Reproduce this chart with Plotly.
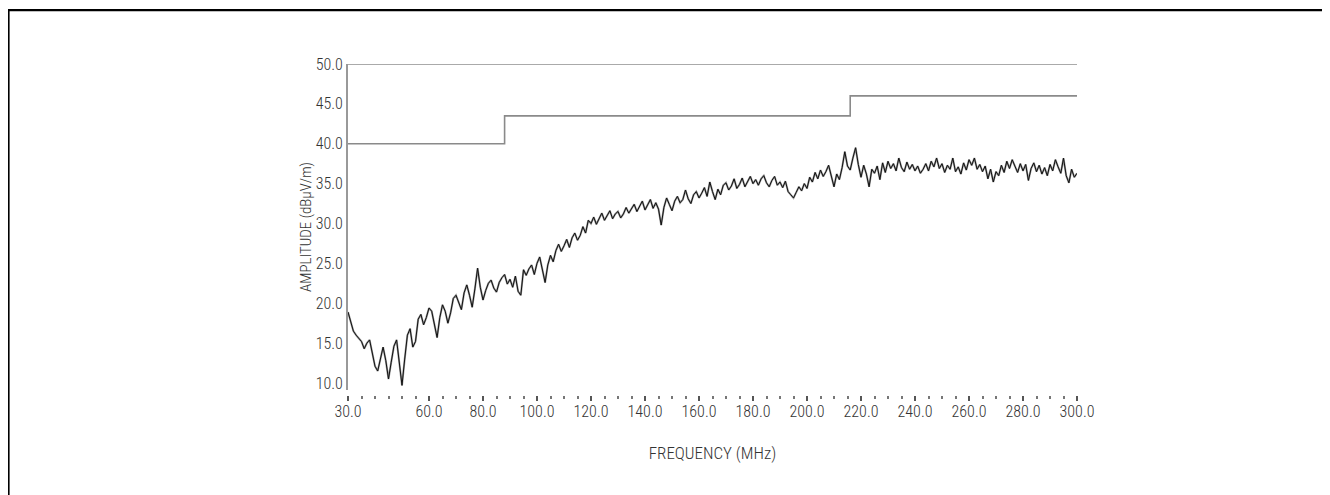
import plotly.graph_objects as go

# Measured emissions, 1 MHz steps from 30 to 300 MHz (dBuV/m)
freq_start = 30
amplitude = [
    18.9, 17.8, 16.5, 16.0, 15.6, 15.2, 14.3, 15.0, 15.4, 13.6,
    12.1, 11.5, 13.2, 14.5, 12.8, 10.5, 12.6, 14.6, 15.4, 12.5,
    9.7, 13.0, 16.0, 16.8, 14.5, 15.2, 18.0, 18.6, 17.3, 18.2,
    19.4, 19.0, 17.4, 15.7, 18.2, 19.8, 19.0, 17.5, 18.8, 20.6,
    21.0, 20.0, 19.2, 21.3, 22.3, 21.0, 19.5, 21.8, 24.4, 22.0,
    20.4, 21.6, 22.5, 22.9, 21.9, 21.4, 22.6, 23.2, 23.6, 22.4,
    23.0, 22.0, 23.4, 21.5, 21.0, 24.2, 23.5, 24.3, 24.8, 23.6,
    25.0, 25.8, 24.4, 22.6, 24.8, 26.0, 25.2, 26.6, 27.4, 26.5,
    27.2, 28.0, 27.0, 28.2, 28.8, 27.9, 28.5, 29.6, 28.8, 30.4,
    30.0, 30.8, 29.9, 30.6, 31.3, 30.4, 31.0, 31.6, 30.6, 31.2,
    31.5, 30.7, 31.2, 32.0, 31.3, 31.8, 32.4, 31.5, 32.2, 32.8,
    31.7, 32.3, 33.0, 31.9, 32.6, 31.8, 29.8, 32.0, 33.2, 32.4,
    31.6, 32.8, 33.4, 32.6, 33.0, 34.2, 33.1, 32.5, 33.6, 34.0,
    33.2, 33.8, 34.5, 33.4, 35.2, 34.0, 33.0, 34.3, 33.6, 34.8,
    35.1, 34.2, 34.7, 35.6, 34.4, 34.9, 35.7, 34.6, 35.3, 35.9,
    35.0, 35.5, 34.8, 35.6, 36.0, 35.1, 34.6, 35.4, 35.9, 34.8,
    35.2, 34.5, 35.3, 34.0, 33.6, 33.2, 33.9, 34.6, 34.1, 35.0,
    34.4, 35.8, 35.2, 36.4, 35.6, 36.7, 35.9, 36.5, 37.3, 36.0,
    34.6, 36.2, 35.5, 37.0, 39.0, 37.2, 36.7, 38.2, 39.5, 37.4,
    35.8, 37.3, 36.2, 34.6, 36.8, 36.3, 37.2, 35.5, 37.6, 36.4,
    37.8, 36.9, 37.5, 36.6, 38.2, 37.0, 36.5, 37.7, 36.8, 37.4,
    36.6, 37.2, 36.3, 36.8, 37.5, 36.6, 37.8, 37.1, 38.2, 36.9,
    37.5, 36.4, 37.3, 36.8, 38.2, 36.5, 37.1, 36.2, 37.6, 36.7,
    38.0, 37.3, 38.2, 36.8, 37.4, 36.5, 37.2, 35.6, 36.8, 35.2,
    36.5, 36.0, 37.3, 36.4, 37.8, 36.9, 38.0, 37.2, 36.4, 37.5,
    36.6, 37.4, 35.4, 36.9, 37.6, 36.5, 37.3, 36.2, 37.0, 36.0,
    37.4, 36.6, 38.0, 37.1, 36.3, 38.2, 36.0, 35.1, 36.8, 35.8,
    36.3,
]
frequency = [freq_start + i for i in range(len(amplitude))]

# FCC class B limit (step line)
limit_freq = [30, 88, 216, 300]
limit_level = [40.0, 43.5, 46.0, 46.0]

x_tick_vals = [30, 60, 80, 100, 120, 140, 160, 180, 200, 220, 240, 260, 280, 300]
x_tick_text = ["%.1f" % v for v in x_tick_vals]
y_tick_vals = [10, 15, 20, 25, 30, 35, 40, 45, 50]

FONT = "Roboto Condensed, Liberation Sans, sans-serif"
TXT = "#333333"

fig = go.Figure()

fig.add_trace(go.Scatter(
    x=limit_freq, y=limit_level, mode="lines",
    line=dict(color="#8a8a8a", width=1.6, shape="hv"),
    hoverinfo="skip", cliponaxis=False
))
# soft grey underlay + black trace
fig.add_trace(go.Scatter(
    x=frequency, y=amplitude, mode="lines",
    line=dict(color="#9a9a9a", width=2.0)
))
fig.add_trace(go.Scatter(
    x=frequency, y=amplitude, mode="lines",
    line=dict(color="#111111", width=1.0)
))

# figure px: plot left 340, right 1069, top 56, bottom (ticks) 387
pl, pt = 340.0, 56.0
pw, ph = 729.0, 331.0

fig.update_layout(
    width=1330, height=495,
    margin=dict(l=340, r=261, t=56, b=108),
    paper_bgcolor="white", plot_bgcolor="white",
    showlegend=False,
    font=dict(family=FONT, size=16, color=TXT, weight=300),
    xaxis=dict(
        range=[30, 300], anchor="free", position=0,
        showgrid=False, zeroline=False, showline=False,
        tickvals=x_tick_vals, ticktext=x_tick_text,
        ticks="outside", ticklen=5, tickwidth=2, tickcolor="#555555",
        minor=dict(dtick=5, tick0=0, ticks="outside", ticklen=3,
                   tickwidth=2, tickcolor="#777777"),
        ticklabelstandoff=-3,
        tickfont=dict(family=FONT, size=16, color=TXT, weight=300),
        title=dict(text="FREQUENCY (MHz)", standoff=26,
                   font=dict(family=FONT, size=17, color=TXT, weight=300)),
    ),
    yaxis=dict(
        range=[9.12, 50], domain=[5 / ph, 1],
        showgrid=False, zeroline=False,
        showline=True, linecolor="#999999", linewidth=2,
        tickvals=y_tick_vals, tickformat=".1f",
        ticks="", ticklabelstandoff=0,
        tickfont=dict(family=FONT, size=16, color=TXT, weight=300),
        title=dict(text="AMPLITUDE (dB\u00b5V/m)", standoff=0,
                   font=dict(family=FONT, size=15, color=TXT, weight=300)),
    ),
    shapes=[
        # top border of the plot at 50.0
        dict(type="line", xref="paper", yref="y", x0=0, x1=1, y0=50, y1=50,
             line=dict(color="#aaaaaa", width=2)),
        # outer frame (top and left visible)
        dict(type="rect", xref="paper", yref="paper",
             x0=(0.5 - pl) / pw, x1=(1345 - pl) / pw,
             y0=(pt + ph - 510) / ph, y1=(pt + ph - 2.2) / ph,
             line=dict(color="#000000", width=2.2)),
    ],
)

fig.write_html("out.html")
